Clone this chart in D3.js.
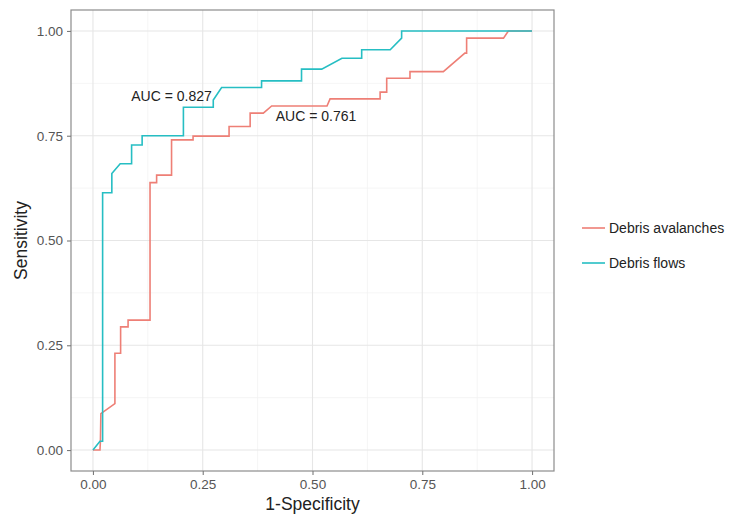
<!DOCTYPE html>
<html lang="en">

<head>
  <meta charset="UTF-8">
  <title>ROC curves</title>
  <script type="text/javascript" src="https://d3js.org/d3.v7.min.js"></script>
  <style>
    body { margin: 0; background: #fff; }
    text { font-family: "Liberation Sans", Arial, Helvetica, sans-serif; }
  </style>
</head>

<body>
  <svg width="738" height="516"></svg>
</body>

<script>

  // series names + colours (ggplot defaults)
  const seriesNames = ["Debris avalanches", "Debris flows"];
  const seriesColors = ["#EE7F76", "#26BEC3"];

  // ROC step points: 1-specificity / sensitivity
  const avalFpr = [0, 0.016, 0.017, 0.018, 0.050, 0.050, 0.063, 0.063, 0.080, 0.080, 0.130, 0.130, 0.145, 0.145,
    0.179, 0.179, 0.228, 0.228, 0.310, 0.310, 0.358, 0.358, 0.388, 0.407, 0.533, 0.540, 0.654, 0.654, 0.669, 0.669,
    0.722, 0.722, 0.798, 0.847, 0.851, 0.851, 0.935, 0.946, 1];
  const avalTpr = [0, 0, 0.021, 0.087, 0.111, 0.231, 0.231, 0.294, 0.294, 0.310, 0.310, 0.638, 0.638, 0.656,
    0.656, 0.740, 0.740, 0.749, 0.749, 0.772, 0.772, 0.804, 0.804, 0.821, 0.821, 0.838, 0.838, 0.854, 0.854, 0.887,
    0.887, 0.903, 0.903, 0.947, 0.947, 0.983, 0.983, 1, 1];

  const flowFpr = [0, 0.016, 0.022, 0.022, 0.043, 0.043, 0.062, 0.088, 0.088, 0.112, 0.112, 0.206, 0.206, 0.274,
    0.274, 0.293, 0.384, 0.384, 0.475, 0.475, 0.521, 0.567, 0.612, 0.612, 0.677, 0.703, 0.703, 1];
  const flowTpr = [0, 0.021, 0.021, 0.614, 0.614, 0.660, 0.683, 0.683, 0.728, 0.728, 0.750, 0.750, 0.818, 0.818,
    0.835, 0.865, 0.865, 0.881, 0.881, 0.909, 0.909, 0.935, 0.935, 0.955, 0.955, 0.983, 1, 1];

  // AUC annotations
  const aucLabels = ["AUC = 0.761", "AUC = 0.827"];
  const aucX = [0.508, 0.179];
  const aucY = [0.797, 0.845];

  const ticks = [0, 0.25, 0.5, 0.75, 1];
  const minorTicks = [0.125, 0.375, 0.625, 0.875];

  const svg = d3.select("svg");
  const panel = { left: 71, right: 554, top: 10, bottom: 471 };

  const x = d3.scaleLinear().domain([-0.05, 1.05]).range([panel.left, panel.right]);
  const y = d3.scaleLinear().domain([-0.05, 1.05]).range([panel.bottom, panel.top]);

  const series = [
    { name: seriesNames[0], color: seriesColors[0], pts: avalFpr.map((v, i) => [v, avalTpr[i]]) },
    { name: seriesNames[1], color: seriesColors[1], pts: flowFpr.map((v, i) => [v, flowTpr[i]]) }
  ];

  // panel background + grid
  svg.append("rect")
    .attr("x", panel.left).attr("y", panel.top)
    .attr("width", panel.right - panel.left).attr("height", panel.bottom - panel.top)
    .attr("fill", "#fff");

  const grid = svg.append("g");
  grid.selectAll(".minx").data(minorTicks).join("line")
    .attr("x1", d => x(d)).attr("x2", d => x(d))
    .attr("y1", panel.top).attr("y2", panel.bottom)
    .attr("stroke", "#f3f3f3").attr("stroke-width", 0.8);
  grid.selectAll(".miny").data(minorTicks).join("line")
    .attr("y1", d => y(d)).attr("y2", d => y(d))
    .attr("x1", panel.left).attr("x2", panel.right)
    .attr("stroke", "#f3f3f3").attr("stroke-width", 0.8);
  grid.selectAll(".majx").data(ticks).join("line")
    .attr("x1", d => x(d)).attr("x2", d => x(d))
    .attr("y1", panel.top).attr("y2", panel.bottom)
    .attr("stroke", "#e6e6e6").attr("stroke-width", 1.1);
  grid.selectAll(".majy").data(ticks).join("line")
    .attr("y1", d => y(d)).attr("y2", d => y(d))
    .attr("x1", panel.left).attr("x2", panel.right)
    .attr("stroke", "#e6e6e6").attr("stroke-width", 1.1);

  // curves
  const line = d3.line().x(d => x(d[0])).y(d => y(d[1]));
  svg.append("g").selectAll("path").data(series).join("path")
    .attr("d", d => line(d.pts))
    .attr("fill", "none")
    .attr("stroke", d => d.color)
    .attr("stroke-width", 1.6);

  // panel border
  svg.append("rect")
    .attr("x", panel.left).attr("y", panel.top)
    .attr("width", panel.right - panel.left).attr("height", panel.bottom - panel.top)
    .attr("fill", "none").attr("stroke", "#8c8c8c").attr("stroke-width", 1.2);

  // axes
  const fmt = d3.format(".2f");
  const xAxis = svg.append("g")
    .attr("transform", "translate(0," + panel.bottom + ")")
    .call(d3.axisBottom(x).tickValues(ticks).tickFormat(fmt).tickSize(4).tickPadding(4));
  const yAxis = svg.append("g")
    .attr("transform", "translate(" + panel.left + ",0)")
    .call(d3.axisLeft(y).tickValues(ticks).tickFormat(fmt).tickSize(4).tickPadding(4));
  [xAxis, yAxis].forEach(a => {
    a.select(".domain").remove();
    a.selectAll(".tick line").attr("stroke", "#7a7a7a").attr("stroke-width", 1.1);
    a.selectAll(".tick text")
      .attr("fill", "#555")
      .attr("font-size", "13.5px")
      .attr("font-family", "'Liberation Sans', Arial, sans-serif");
  });

  // axis titles
  svg.append("text")
    .attr("x", (panel.left + panel.right) / 2).attr("y", 510)
    .attr("text-anchor", "middle")
    .attr("font-size", "17.5px").attr("fill", "#222")
    .text("1-Specificity");
  svg.append("text")
    .attr("transform", "translate(27," + (panel.top + panel.bottom) / 2 + ") rotate(-90)")
    .attr("text-anchor", "middle")
    .attr("font-size", "17.5px").attr("fill", "#222")
    .text("Sensitivity");

  // AUC labels
  svg.append("g").selectAll("text").data(aucLabels).join("text")
    .attr("x", (d, i) => x(aucX[i]))
    .attr("y", (d, i) => y(aucY[i]))
    .attr("dy", "0.35em")
    .attr("text-anchor", "middle")
    .attr("font-size", "14px").attr("fill", "#222")
    .text(d => d);

  // legend
  const legend = svg.append("g").attr("transform", "translate(582,228)");
  const item = legend.selectAll("g").data(series).join("g")
    .attr("transform", (d, i) => "translate(0," + i * 35 + ")");
  item.append("line")
    .attr("x1", 0).attr("x2", 23)
    .attr("stroke", d => d.color).attr("stroke-width", 1.6);
  item.append("text")
    .attr("x", 27).attr("dy", "0.35em")
    .attr("font-size", "14px").attr("fill", "#222")
    .text(d => d.name);

</script>

</html>
